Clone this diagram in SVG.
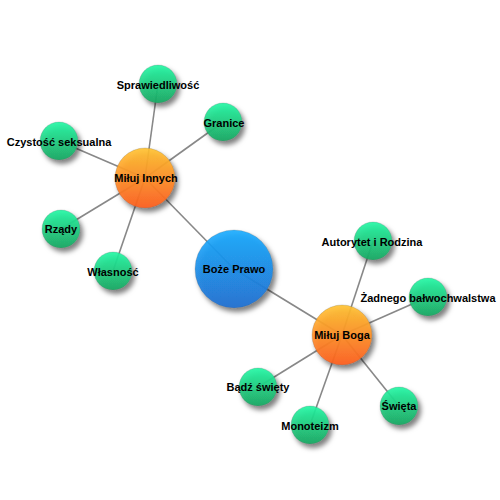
<svg xmlns="http://www.w3.org/2000/svg" width="500" height="500" viewBox="0 0 500 500">
<defs>
<linearGradient id="gGreen" x1="0" y1="0" x2="0" y2="1"><stop offset="0" stop-color="#1ff7a2"/><stop offset="1" stop-color="#1aa862"/></linearGradient>
<linearGradient id="gOrange" x1="0" y1="0" x2="0" y2="1"><stop offset="0" stop-color="#ffc22e"/><stop offset="1" stop-color="#ff5e1e"/></linearGradient>
<linearGradient id="gBlue" x1="0" y1="0" x2="0" y2="1"><stop offset="0" stop-color="#1aabff"/><stop offset="1" stop-color="#1c6fd2"/></linearGradient>
<filter id="sh" x="-40%" y="-40%" width="190%" height="190%"><feDropShadow dx="3" dy="4" stdDeviation="2.5" flood-color="#000" flood-opacity="0.55"/></filter>
</defs>
<style>
.edge{stroke:#888;stroke-width:1.6;fill:none}
circle{filter:url(#sh);fill-opacity:0.9;stroke:#555;stroke-width:0.5;stroke-opacity:0.4}
.leaf{fill:url(#gGreen)}
.mid{fill:url(#gOrange)}
.root{fill:url(#gBlue)}
text{font-family:"Liberation Sans",Arial,sans-serif;font-size:11px;font-weight:bold;fill:#000;text-anchor:middle}
</style>
<rect width="500" height="500" fill="#fff"/>
<g id="connectors">
<line class="edge" x1="234" y1="269" x2="145" y2="178"/>
<line class="edge" x1="234" y1="269" x2="342" y2="335"/>
<line class="edge" x1="145" y1="178" x2="158" y2="84"/>
<line class="edge" x1="145" y1="178" x2="223" y2="122"/>
<line class="edge" x1="145" y1="178" x2="59" y2="141"/>
<line class="edge" x1="145" y1="178" x2="61" y2="229"/>
<line class="edge" x1="145" y1="178" x2="113" y2="271"/>
<line class="edge" x1="342" y1="335" x2="373" y2="241"/>
<line class="edge" x1="342" y1="335" x2="428" y2="297"/>
<line class="edge" x1="342" y1="335" x2="258" y2="387"/>
<line class="edge" x1="342" y1="335" x2="310" y2="425"/>
<line class="edge" x1="342" y1="335" x2="399" y2="406"/>
</g>
<g id="boze-prawo"><circle class="root" cx="234" cy="269" r="39"/><text x="234" y="273">Boże Prawo</text></g>
<g id="miluj-innych"><circle class="mid" cx="145" cy="178" r="30"/><text x="146" y="182">Miłuj Innych</text></g>
<g id="miluj-boga"><circle class="mid" cx="342" cy="335" r="30"/><text x="342" y="339">Miłuj Boga</text></g>
<g id="sprawiedliwosc"><circle class="leaf" cx="158" cy="84" r="19"/><text x="158" y="89">Sprawiedliwość</text></g>
<g id="granice"><circle class="leaf" cx="223" cy="122" r="19"/><text x="224" y="127">Granice</text></g>
<g id="czystosc"><circle class="leaf" cx="59" cy="141" r="19"/><text x="59" y="146">Czystość seksualna</text></g>
<g id="rzady"><circle class="leaf" cx="61" cy="229" r="19"/><text x="61" y="233">Rządy</text></g>
<g id="wlasnosc"><circle class="leaf" cx="113" cy="271" r="19"/><text x="113" y="276">Własność</text></g>
<g id="autorytet"><circle class="leaf" cx="373" cy="241" r="19"/><text x="372" y="246">Autorytet i Rodzina</text></g>
<g id="zadnego"><circle class="leaf" cx="428" cy="297" r="19"/><text x="428" y="302">Żadnego bałwochwalstwa</text></g>
<g id="badz-swiety"><circle class="leaf" cx="258" cy="387" r="19"/><text x="258" y="391">Bądź święty</text></g>
<g id="monoteizm"><circle class="leaf" cx="310" cy="425" r="19"/><text x="310" y="430">Monoteizm</text></g>
<g id="swieta"><circle class="leaf" cx="399" cy="406" r="19"/><text x="399" y="410">Święta</text></g>
</svg>
